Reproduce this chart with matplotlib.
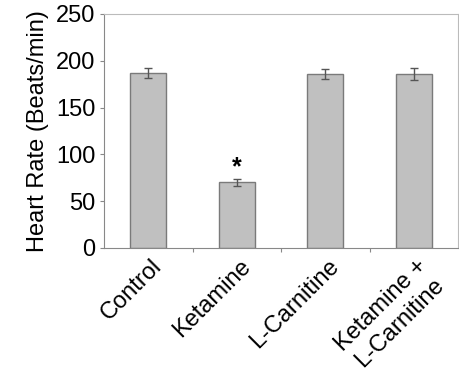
import matplotlib
matplotlib.use("Agg")
import matplotlib.pyplot as plt
from matplotlib import transforms

plt.rcParams['font.family'] = ['Liberation Sans', 'DejaVu Sans']

# Frecuencia cardiaca por grupo
grupos = ["Control", "Ketamine", "L-Carnitine", "Ketamine +\nL-Carnitine"]
medias = [187, 70, 186, 186]
errores = [5, 4, 5, 6]
signif = [False, True, False, False]

fig = plt.figure(figsize=(4.59, 3.73), dpi=100)
ax = fig.add_axes([104 / 459, 1 - 248 / 373, 354 / 459, 234 / 373])

x = range(len(grupos))
ax.bar(x, medias, width=0.41, color="#c0c0c0", edgecolor="#7a7a7a", linewidth=1.0,
       yerr=errores, error_kw=dict(ecolor="#555555", elinewidth=1.0, capsize=3, capthick=1.0))

for i, s in enumerate(signif):
    if s:
        ax.text(i, medias[i] + errores[i] + 12, "*", ha="center", va="center",
                fontsize=18, fontweight="bold")

ax.set_xlim(-0.5, len(grupos) - 0.5)
ax.set_ylim(0, 250)
ax.set_yticks(range(0, 251, 50))
ax.tick_params(axis="y", labelsize=17, length=3, color="#888888", pad=3)
ax.set_xticks([0.5, 1.5, 2.5])
ax.set_xticklabels([])
ax.tick_params(axis="x", length=3, color="#888888")

# etiquetas inclinadas, desplazadas unos pixeles bajo el eje
desplaza = transforms.ScaledTranslation(0, -7 / 100, fig.dpi_scale_trans)
trans = transforms.blended_transform_factory(ax.transData, ax.transAxes) + desplaza
for i, g in enumerate(grupos):
    ax.text(i + 0.03, 0, g, rotation=45, ha="right", va="top", fontsize=17,
            rotation_mode="anchor", multialignment="center", transform=trans)

for lado in ["left", "bottom"]:
    ax.spines[lado].set_color("#888888")
for lado in ["top", "right"]:
    ax.spines[lado].set_color("#bbbbbb")

ax.set_ylabel("Heart Rate (Beats/min)", fontsize=17, labelpad=5)

fig.savefig("out.png", dpi=100)
